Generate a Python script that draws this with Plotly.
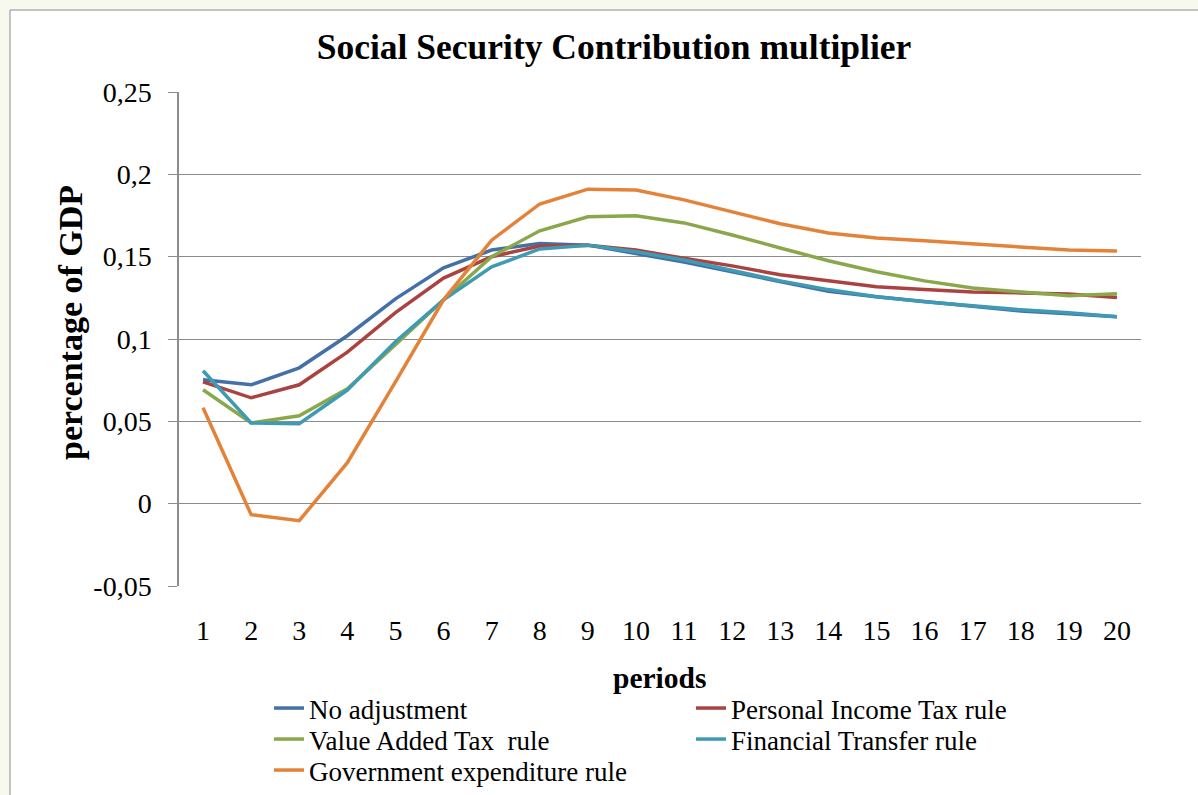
import plotly.graph_objects as go

periods = list(range(1, 21))

no_adjustment = [0.0752, 0.0722, 0.0825, 0.1020, 0.1244, 0.1432, 0.1540, 0.1580, 0.1570, 0.1520,
                 0.1468, 0.1408, 0.1347, 0.1290, 0.1256, 0.1226, 0.1195, 0.1170, 0.1153, 0.1135]
personal_income_tax = [0.0740, 0.0643, 0.0722, 0.0920, 0.1160, 0.1370, 0.1500, 0.1565, 0.1570, 0.1540,
                       0.1490, 0.1444, 0.1390, 0.1353, 0.1317, 0.1300, 0.1286, 0.1280, 0.1274, 0.1252]
value_added_tax = [0.0692, 0.0490, 0.0534, 0.0698, 0.0965, 0.1238, 0.1500, 0.1657, 0.1742, 0.1748,
                   0.1705, 0.1632, 0.1553, 0.1475, 0.1408, 0.1353, 0.1310, 0.1286, 0.1262, 0.1275]
financial_transfer = [0.0807, 0.0490, 0.0485, 0.0690, 0.0983, 0.1238, 0.1438, 0.1547, 0.1570, 0.1530,
                      0.1480, 0.1414, 0.1353, 0.1300, 0.1256, 0.1226, 0.1200, 0.1177, 0.1159, 0.1135]
government_expenditure = [0.0583, -0.0067, -0.0103, 0.0249, 0.0740, 0.1238, 0.1600, 0.1820, 0.1910, 0.1905,
                          0.1845, 0.1770, 0.1700, 0.1644, 0.1614, 0.1596, 0.1578, 0.1560, 0.1540, 0.1535]

series_names = ["No adjustment", "Personal Income Tax rule", "Value Added Tax  rule",
                "Financial Transfer rule", "Government expenditure rule"]
series_values = [no_adjustment, personal_income_tax, value_added_tax,
                 financial_transfer, government_expenditure]
colors = ["#4470A8", "#AA4340", "#8AA84B", "#3F9AB3", "#E3833A"]
legend_rows = ["legend", "legend", "legend2", "legend2", "legend3"]

y_tickvals = [-0.05, 0, 0.05, 0.1, 0.15, 0.2, 0.25]
y_ticktext = ["-0,05", "0", "0,05", "0,1", "0,15", "0,2", "0,25"]

FONT = "Liberation Serif, Times New Roman, serif"
PL, PR, PT, PB = 179, 1141, 92, 586
PW, PH = PR - PL, PB - PT

fig = go.Figure()
for name, vals, col, lg in zip(series_names, series_values, colors, legend_rows):
    fig.add_trace(go.Scatter(x=periods, y=vals, mode="lines", name=name, legend=lg,
                             line=dict(color=col, width=3.5)))

# outer chart frame
fig.add_shape(type="rect", xref="paper", yref="paper",
              x0=(10 - PL) / PW, x1=(1230 - PL) / PW,
              y0=(PB - 830) / PH, y1=(PB - 10) / PH,
              line=dict(color="#8C8C8C", width=1), fillcolor="white", layer="below")

# axis titles
fig.add_annotation(text="<b>percentage of GDP</b>", textangle=-90,
                   xref="paper", yref="paper", x=(70 - PL) / PW, y=(PB - 323) / PH,
                   xanchor="center", yanchor="middle", showarrow=False,
                   font=dict(family=FONT, size=34, color="black"))
fig.add_annotation(text="<b>periods</b>",
                   xref="paper", yref="paper", x=(659 - PL) / PW, y=(PB - 678) / PH,
                   xanchor="center", yanchor="middle", showarrow=False,
                   font=dict(family=FONT, size=29.5, color="black"))


def legend_row(top_px):
    return dict(orientation="h", x=(269 - PL) / PW, xanchor="left",
                yref="container", y=1 - top_px / 795, yanchor="top",
                entrywidth=377, entrywidthmode="pixels",
                font=dict(family=FONT, size=27, color="black"),
                bgcolor="rgba(0,0,0,0)", itemwidth=30, tracegroupgap=0)


fig.update_layout(
    width=1198, height=795,
    margin=dict(l=PL, r=1198 - PR, t=PT, b=795 - PB, autoexpand=False),
    paper_bgcolor="#F7F9EE",
    plot_bgcolor="white",
    font=dict(family=FONT, color="black", size=27),
    title=dict(text="<b>Social Security Contribution multiplier</b>",
               x=614 / 1198, xanchor="center", y=1 - 47 / 795, yanchor="middle",
               font=dict(family=FONT, size=35.5, color="black")),
    xaxis=dict(range=[0.5, 20.5], tickvals=periods, ticktext=[str(p) for p in periods],
               showgrid=False, zeroline=False, showline=False, ticks="",
               tickfont=dict(size=28), ticklabelstandoff=25),
    yaxis=dict(range=[-0.05, 0.25], tickvals=y_tickvals, ticktext=y_ticktext,
               showgrid=True, gridcolor="#8C8C8C", gridwidth=1, zeroline=False,
               showline=True, linecolor="#8C8C8C", linewidth=1.5,
               ticks="outside", ticklen=9, tickcolor="#8C8C8C",
               tickfont=dict(size=28), ticklabelstandoff=11),
    legend=legend_row(684),
    legend2=legend_row(715),
    legend3=legend_row(746),
    showlegend=True,
)

fig.write_html("out.html")
